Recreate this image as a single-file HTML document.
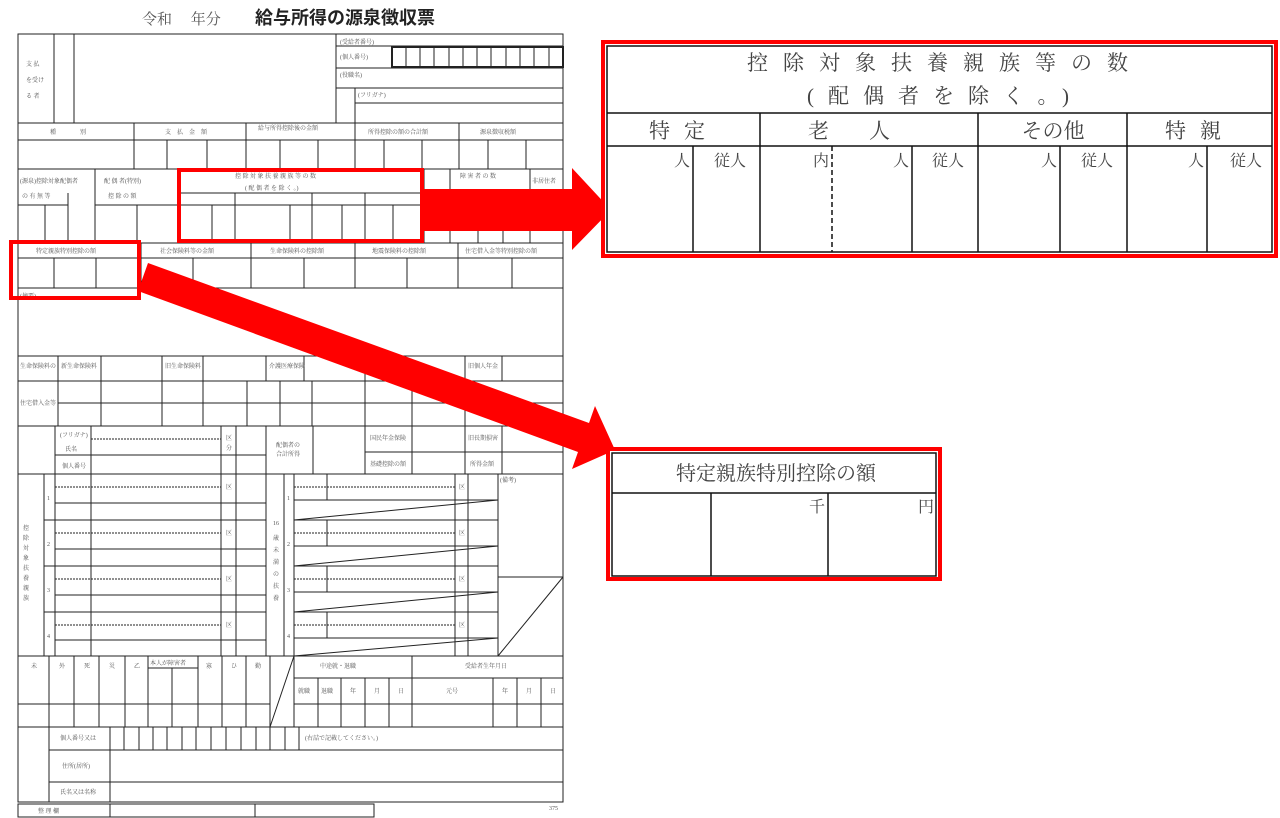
<!DOCTYPE html>
<html><head><meta charset="utf-8"><style>
html,body{margin:0;padding:0;background:#fff;}
svg{display:block;font-family:"Liberation Serif","Noto Serif CJK SC","Noto Sans CJK JP",serif;}
.t{font-size:6px;fill:#555;}
</style></head><body>
<svg width="1280" height="818" viewBox="0 0 1280 818" xmlns="http://www.w3.org/2000/svg">
<text x="142" y="24" font-size="15" fill="#555">令和　 年分</text>
<text x="255" y="24" font-size="18" font-weight="bold" fill="#222" font-family="Liberation Sans,Noto Sans CJK JP,sans-serif">給与所得の源泉徴収票</text>
<g stroke="#222" stroke-width="1" fill="none">
<rect x="18" y="34" width="545" height="768"/>
<line x1="54" y1="34" x2="54" y2="123"/><line x1="74" y1="34" x2="74" y2="123"/><line x1="336" y1="34" x2="336" y2="123"/>
<line x1="336" y1="46" x2="563" y2="46"/><line x1="336" y1="68" x2="563" y2="68"/><line x1="336" y1="88" x2="563" y2="88"/>
<line x1="355" y1="103" x2="563" y2="103"/><line x1="355" y1="88" x2="355" y2="123"/><line x1="392" y1="46" x2="392" y2="68"/>
<rect x="392" y="47" width="171" height="20" stroke-width="2"/>
<line x1="406" y1="47" x2="406" y2="67"/><line x1="420" y1="47" x2="420" y2="67"/><line x1="434" y1="47" x2="434" y2="67"/><line x1="449" y1="47" x2="449" y2="67"/><line x1="463" y1="47" x2="463" y2="67"/><line x1="477" y1="47" x2="477" y2="67"/><line x1="491" y1="47" x2="491" y2="67"/><line x1="506" y1="47" x2="506" y2="67"/><line x1="520" y1="47" x2="520" y2="67"/><line x1="534" y1="47" x2="534" y2="67"/><line x1="549" y1="47" x2="549" y2="67"/>
<line x1="18" y1="123" x2="563" y2="123"/><line x1="18" y1="140" x2="563" y2="140"/><line x1="18" y1="169" x2="563" y2="169"/>
<line x1="134" y1="123" x2="134" y2="169"/><line x1="246" y1="123" x2="246" y2="169"/><line x1="355" y1="123" x2="355" y2="169"/><line x1="459" y1="123" x2="459" y2="169"/>
<line x1="167" y1="140" x2="167" y2="169"/><line x1="207" y1="140" x2="207" y2="169"/><line x1="280" y1="140" x2="280" y2="169"/><line x1="318" y1="140" x2="318" y2="169"/><line x1="384" y1="140" x2="384" y2="169"/><line x1="422" y1="140" x2="422" y2="169"/><line x1="488" y1="140" x2="488" y2="169"/><line x1="526" y1="140" x2="526" y2="169"/>
<line x1="95" y1="169" x2="95" y2="243"/><line x1="68" y1="193" x2="68" y2="243"/><line x1="18" y1="205" x2="68" y2="205"/><line x1="45" y1="205" x2="45" y2="243"/>
<line x1="137" y1="205" x2="137" y2="243"/><line x1="95" y1="205" x2="178" y2="205"/>
<line x1="178" y1="169" x2="178" y2="243"/><line x1="178" y1="193" x2="424" y2="193"/><line x1="178" y1="205" x2="563" y2="205"/>
<line x1="235" y1="193" x2="235" y2="243"/><line x1="312" y1="193" x2="312" y2="243"/><line x1="365" y1="193" x2="365" y2="243"/>
<line x1="212" y1="205" x2="212" y2="243"/><line x1="290" y1="205" x2="290" y2="243"/><line x1="342" y1="205" x2="342" y2="243"/><line x1="393" y1="205" x2="393" y2="243"/>
<line x1="424" y1="169" x2="424" y2="243"/><line x1="450" y1="169" x2="450" y2="243"/><line x1="530" y1="169" x2="530" y2="243"/><line x1="478" y1="205" x2="478" y2="243"/><line x1="503" y1="205" x2="503" y2="243"/>
<line x1="18" y1="243" x2="563" y2="243"/><line x1="18" y1="258" x2="563" y2="258"/><line x1="18" y1="288" x2="563" y2="288"/>
<line x1="141" y1="243" x2="141" y2="288"/><line x1="251" y1="243" x2="251" y2="288"/><line x1="355" y1="243" x2="355" y2="288"/><line x1="458" y1="243" x2="458" y2="288"/>
<line x1="54" y1="258" x2="54" y2="288"/><line x1="96" y1="258" x2="96" y2="288"/><line x1="193" y1="258" x2="193" y2="288"/><line x1="304" y1="258" x2="304" y2="288"/><line x1="407" y1="258" x2="407" y2="288"/><line x1="512" y1="258" x2="512" y2="288"/>
<line x1="18" y1="356" x2="563" y2="356"/><line x1="18" y1="381" x2="563" y2="381"/><line x1="58" y1="403" x2="563" y2="403"/><line x1="18" y1="426" x2="563" y2="426"/>
<line x1="58" y1="356" x2="58" y2="426"/><line x1="101" y1="356" x2="101" y2="426"/><line x1="162" y1="356" x2="162" y2="426"/><line x1="203" y1="356" x2="203" y2="426"/><line x1="266" y1="356" x2="266" y2="381"/><line x1="304" y1="356" x2="304" y2="381"/><line x1="365" y1="356" x2="365" y2="426"/><line x1="412" y1="381" x2="412" y2="426"/><line x1="465" y1="356" x2="465" y2="426"/><line x1="502" y1="356" x2="502" y2="381"/>
<line x1="247" y1="381" x2="247" y2="426"/><line x1="280" y1="381" x2="280" y2="426"/><line x1="312" y1="381" x2="312" y2="426"/>
<line x1="55" y1="426" x2="55" y2="474"/><line x1="91" y1="426" x2="91" y2="474"/><line x1="221" y1="426" x2="221" y2="474"/><line x1="236" y1="426" x2="236" y2="474"/><line x1="266" y1="426" x2="266" y2="474"/><line x1="313" y1="426" x2="313" y2="474"/><line x1="365" y1="426" x2="365" y2="474"/><line x1="412" y1="426" x2="412" y2="474"/><line x1="465" y1="426" x2="465" y2="474"/><line x1="502" y1="426" x2="502" y2="474"/>
<line x1="55" y1="455" x2="266" y2="455"/><line x1="365" y1="452" x2="563" y2="452"/>
<line x1="91" y1="439" x2="221" y2="439" stroke-dasharray="2,1"/>
<line x1="18" y1="474" x2="563" y2="474"/>
<line x1="44" y1="474" x2="44" y2="656"/><line x1="55" y1="474" x2="55" y2="656"/><line x1="91" y1="474" x2="91" y2="656"/><line x1="221" y1="474" x2="221" y2="656"/><line x1="236" y1="474" x2="236" y2="656"/><line x1="266" y1="474" x2="266" y2="656"/>
<line x1="44" y1="520" x2="266" y2="520"/><line x1="44" y1="566" x2="266" y2="566"/><line x1="44" y1="612" x2="266" y2="612"/>
<line x1="55" y1="503" x2="266" y2="503"/><line x1="55" y1="549" x2="266" y2="549"/><line x1="55" y1="595" x2="266" y2="595"/><line x1="55" y1="640" x2="266" y2="640"/>
<g stroke-dasharray="2,1"><line x1="55" y1="487" x2="221" y2="487"/><line x1="55" y1="533" x2="221" y2="533"/><line x1="55" y1="579" x2="221" y2="579"/><line x1="55" y1="625" x2="221" y2="625"/>
<line x1="294" y1="487" x2="455" y2="487"/><line x1="294" y1="533" x2="455" y2="533"/><line x1="294" y1="579" x2="455" y2="579"/><line x1="294" y1="625" x2="455" y2="625"/></g>
<line x1="284" y1="474" x2="284" y2="656"/><line x1="294" y1="474" x2="294" y2="656"/>
<line x1="294" y1="500" x2="498" y2="500"/><line x1="294" y1="520" x2="498" y2="520"/><line x1="294" y1="520" x2="498" y2="500"/>
<line x1="294" y1="546" x2="498" y2="546"/><line x1="294" y1="566" x2="498" y2="566"/><line x1="294" y1="566" x2="498" y2="546"/>
<line x1="294" y1="592" x2="498" y2="592"/><line x1="294" y1="612" x2="498" y2="612"/><line x1="294" y1="612" x2="498" y2="592"/>
<line x1="294" y1="638" x2="498" y2="638"/><line x1="294" y1="656" x2="498" y2="638"/>
<line x1="327" y1="474" x2="327" y2="500"/><line x1="327" y1="520" x2="327" y2="546"/><line x1="327" y1="566" x2="327" y2="592"/><line x1="327" y1="612" x2="327" y2="638"/>
<line x1="455" y1="474" x2="455" y2="656"/><line x1="468" y1="474" x2="468" y2="656"/><line x1="498" y1="474" x2="498" y2="656"/>
<line x1="498" y1="577" x2="563" y2="577"/><line x1="498" y1="656" x2="563" y2="577"/>
<line x1="18" y1="656" x2="563" y2="656"/>
<line x1="49" y1="656" x2="49" y2="727"/><line x1="74" y1="656" x2="74" y2="727"/><line x1="99" y1="656" x2="99" y2="727"/><line x1="125" y1="656" x2="125" y2="727"/><line x1="148" y1="656" x2="148" y2="727"/><line x1="172" y1="668" x2="172" y2="727"/><line x1="198" y1="656" x2="198" y2="727"/><line x1="222" y1="656" x2="222" y2="727"/><line x1="246" y1="656" x2="246" y2="727"/><line x1="270" y1="656" x2="270" y2="727"/><line x1="294" y1="656" x2="294" y2="727"/>
<line x1="148" y1="668" x2="198" y2="668"/><line x1="270" y1="727" x2="294" y2="656"/>
<line x1="294" y1="678" x2="563" y2="678"/><line x1="18" y1="704" x2="270" y2="704"/><line x1="294" y1="704" x2="563" y2="704"/>
<line x1="412" y1="656" x2="412" y2="727"/><line x1="318" y1="678" x2="318" y2="727"/><line x1="341" y1="678" x2="341" y2="727"/><line x1="365" y1="678" x2="365" y2="727"/><line x1="389" y1="678" x2="389" y2="727"/><line x1="493" y1="678" x2="493" y2="727"/><line x1="517" y1="678" x2="517" y2="727"/><line x1="541" y1="678" x2="541" y2="727"/>
<line x1="18" y1="727" x2="563" y2="727"/>
<line x1="49" y1="727" x2="49" y2="802"/><line x1="110" y1="727" x2="110" y2="802"/><line x1="49" y1="750" x2="563" y2="750"/><line x1="49" y1="782" x2="563" y2="782"/>
<line x1="124" y1="727" x2="124" y2="750"/><line x1="139" y1="727" x2="139" y2="750"/><line x1="153" y1="727" x2="153" y2="750"/><line x1="167" y1="727" x2="167" y2="750"/><line x1="182" y1="727" x2="182" y2="750"/><line x1="196" y1="727" x2="196" y2="750"/><line x1="211" y1="727" x2="211" y2="750"/><line x1="226" y1="727" x2="226" y2="750"/><line x1="241" y1="727" x2="241" y2="750"/><line x1="256" y1="727" x2="256" y2="750"/><line x1="270" y1="727" x2="270" y2="750"/><line x1="285" y1="727" x2="285" y2="750"/><line x1="299" y1="727" x2="299" y2="750"/>
<rect x="18" y="804" width="356" height="13"/><line x1="110" y1="804" x2="110" y2="817"/><line x1="255" y1="804" x2="255" y2="817"/>
</g>
<g class="t">
<text x="340" y="44">(受給者番号)</text><text x="340" y="59">(個人番号)</text><text x="340" y="77">(役職名)</text><text x="358" y="97">(フリガナ)</text>
<text x="26" y="66">支 払</text><text x="26" y="82">を受け</text><text x="26" y="98">る 者</text>
<text x="50" y="134">種　　　　別</text><text x="165" y="134">支　払　金　額</text><text x="258" y="130">給与所得控除後の金額</text><text x="368" y="134">所得控除の額の合計額</text><text x="480" y="134">源泉徴収税額</text>
<text x="20" y="183">(源泉)控除対象配偶者</text><text x="22" y="198">の 有 無 等</text><text x="104" y="183">配 偶 者(特別)</text><text x="108" y="198">控 除 の 額</text>
<text x="235" y="178">控 除 対 象 扶 養 親 族 等 の 数</text><text x="245" y="190">( 配 偶 者 を 除 く 。)</text>
<text x="460" y="178">障 害 者 の 数</text><text x="532" y="183">非居住者</text>
<text x="36" y="253">特定親族特別控除の額</text><text x="160" y="253">社会保険料等の金額</text><text x="270" y="253">生命保険料の控除額</text><text x="372" y="253">地震保険料の控除額</text><text x="465" y="253">住宅借入金等特別控除の額</text>
<text x="20" y="298">(摘要)</text>
<text x="20" y="368">生命保険料の</text><text x="61" y="368">新生命保険料</text><text x="165" y="368">旧生命保険料</text><text x="269" y="368">介護医療保険</text><text x="468" y="368">旧個人年金</text>
<text x="20" y="405">住宅借入金等</text><text x="60" y="437">(フリガナ)</text><text x="65" y="451">氏名</text><text x="62" y="468">個人番号</text>
<text x="276" y="447">配偶者の</text><text x="276" y="456">合計所得</text><text x="370" y="440">国民年金保険</text><text x="370" y="466">基礎控除の額</text><text x="468" y="440">旧長期損害</text><text x="470" y="466">所得金額</text>
<text x="500" y="482">(備考)</text>
<text x="226" y="440">区</text><text x="226" y="450">分</text>
<text x="226" y="489">区</text><text x="226" y="535">区</text><text x="226" y="581">区</text><text x="226" y="627">区</text>
<text x="459" y="489">区</text><text x="459" y="535">区</text><text x="459" y="581">区</text><text x="459" y="627">区</text>
<text x="47" y="500">1</text><text x="47" y="546">2</text><text x="47" y="592">3</text><text x="47" y="638">4</text>
<text x="287" y="500">1</text><text x="287" y="546">2</text><text x="287" y="592">3</text><text x="287" y="638">4</text>
<text x="31" y="668">未</text><text x="59" y="668">外</text><text x="84" y="668">死</text><text x="109" y="668">災</text><text x="134" y="668">乙</text><text x="150" y="665">本人が障害者</text><text x="206" y="668">寡</text><text x="231" y="668">ひ</text><text x="255" y="668">勤</text>
<text x="320" y="668">中途就・退職</text><text x="465" y="668">受給者生年月日</text>
<text x="298" y="693">就職</text><text x="321" y="693">退職</text><text x="350" y="693">年</text><text x="374" y="693">月</text><text x="398" y="693">日</text><text x="446" y="693">元号</text><text x="502" y="693">年</text><text x="526" y="693">月</text><text x="550" y="693">日</text>
<text x="60" y="740">個人番号又は</text><text x="62" y="768">住所(居所)</text><text x="60" y="794">氏名又は名称</text><text x="305" y="740">(右詰で記載してください。)</text>
<text x="38" y="813">整 理 欄</text><text x="549" y="810">375</text>
</g>
<g fill="#555" font-size="6">
<text x="23" y="530">控</text><text x="23" y="540">除</text><text x="23" y="550">対</text><text x="23" y="560">象</text><text x="23" y="570">扶</text><text x="23" y="580">養</text><text x="23" y="590">親</text><text x="23" y="600">族</text>
<text x="273" y="525">16</text><text x="273" y="540">歳</text><text x="273" y="552">未</text><text x="273" y="564">満</text><text x="273" y="576">の</text><text x="273" y="588">扶</text><text x="273" y="600">養</text>
</g>
<rect x="179" y="170" width="243" height="71" fill="none" stroke="#f00" stroke-width="4"/>
<rect x="11" y="242" width="128" height="56" fill="none" stroke="#f00" stroke-width="4"/>
<polygon points="422,189 572,189 572,168 611,210 572,250 572,231 422,231" fill="#f00"/>
<polygon points="148,263 589,423 595,406 615,450 572,469 578,452 138,291" fill="#f00"/>
<rect x="603" y="42" width="673" height="214" fill="#fff" stroke="#f00" stroke-width="4"/>
<g stroke="#111" stroke-width="1.5" fill="none">
<rect x="607" y="46" width="665" height="206"/>
<line x1="607" y1="113" x2="1272" y2="113"/><line x1="607" y1="146" x2="1272" y2="146"/>
<line x1="760" y1="113" x2="760" y2="252"/><line x1="978" y1="113" x2="978" y2="252"/><line x1="1127" y1="113" x2="1127" y2="252"/>
<line x1="693" y1="146" x2="693" y2="252"/><line x1="912" y1="146" x2="912" y2="252"/><line x1="1060" y1="146" x2="1060" y2="252"/><line x1="1207" y1="146" x2="1207" y2="252"/>
<line x1="832" y1="146" x2="832" y2="252" stroke-dasharray="5,3"/>
</g>
<g fill="#444" font-size="21" text-anchor="middle">
<text x="945" y="70" letter-spacing="15">控除対象扶養親族等の数</text>
<text x="945" y="103" letter-spacing="14">(配偶者を除く。)</text>
<text x="684" y="138" letter-spacing="14">特定</text><text x="869" y="138" letter-spacing="40">老人</text><text x="1053" y="138">その他</text><text x="1200" y="138" letter-spacing="14">特親</text>
</g>
<g fill="#444" font-size="16" text-anchor="end">
<text x="690" y="166">人</text><text x="746" y="166">従人</text><text x="829" y="166">内</text><text x="909" y="166">人</text><text x="964" y="166">従人</text><text x="1057" y="166">人</text><text x="1113" y="166">従人</text><text x="1204" y="166">人</text><text x="1262" y="166">従人</text>
</g>
<rect x="608" y="449" width="332" height="130" fill="#fff" stroke="#f00" stroke-width="4"/>
<g stroke="#111" stroke-width="1.5" fill="none">
<rect x="612" y="453" width="324" height="123"/>
<line x1="612" y1="493" x2="936" y2="493"/><line x1="711" y1="493" x2="711" y2="576"/><line x1="828" y1="493" x2="828" y2="576"/>
</g>
<text x="776" y="480" font-size="20" fill="#444" text-anchor="middle">特定親族特別控除の額</text>
<text x="825" y="512" font-size="16" fill="#444" text-anchor="end">千</text>
<text x="934" y="512" font-size="16" fill="#444" text-anchor="end">円</text>
</svg>
</body></html>
